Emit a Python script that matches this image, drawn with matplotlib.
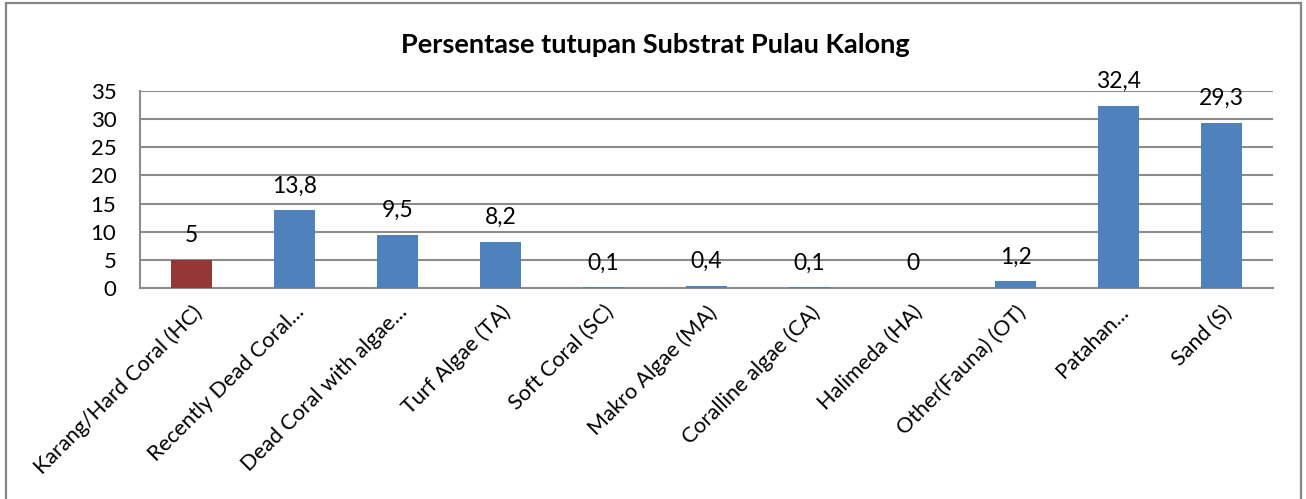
import matplotlib
matplotlib.use("Agg")
import matplotlib.pyplot as plt
from matplotlib.patches import Rectangle

categories = ["Karang/Hard Coral (HC)", "Recently Dead Coral...", "Dead Coral with algae...",
              "Turf Algae (TA)", "Soft Coral (SC)", "Makro Algae (MA)", "Coralline algae (CA)",
              "Halimeda (HA)", "Other(Fauna) (OT)", "Patahan...", "Sand (S)"]
values = [5, 13.8, 9.5, 8.2, 0.1, 0.4, 0.1, 0, 1.2, 32.4, 29.3]
bar_colors = ["#953735"] + ["#4F81BD"] * 10
yticks = [0, 5, 10, 15, 20, 25, 30, 35]
title = "Persentase tutupan Substrat Pulau Kalong"

W, H, DPI = 1306, 499, 100
plt.rcParams['font.family'] = ['Lato', 'DejaVu Sans']
fig = plt.figure(figsize=(W / DPI, H / DPI), dpi=DPI)

# outer chart border
fig.patches.append(Rectangle((6 / W, -0.05), (1301 - 6) / W, 1.05 - 3 / H,
                             transform=fig.transFigure, fill=False,
                             edgecolor="#868686", linewidth=1.6))

ax_l, ax_r, ax_t, ax_b = 140, 1273, 91, 288
ax = fig.add_axes([ax_l / W, 1 - ax_b / H, (ax_r - ax_l) / W, (ax_b - ax_t) / H])

x = list(range(len(categories)))
ax.bar(x, values, width=0.4, color=bar_colors, zorder=3)
ax.set_xlim(-0.5, len(categories) - 0.5)
ax.set_ylim(0, 35)
ax.set_yticks(yticks)
ax.grid(axis='y', color="#8c8c8c", linewidth=1.5, zorder=0)
for s in ['top', 'right']:
    ax.spines[s].set_visible(False)
for s in ['left', 'bottom']:
    ax.spines[s].set_color("#8c8c8c")
    ax.spines[s].set_linewidth(1.5)
ax.tick_params(axis='y', length=0, pad=17, labelsize=16)
ax.tick_params(axis='x', length=0, pad=10)
ax.set_xticks(x)
ax.set_xticklabels(categories, rotation=45, ha='right', va='top',
                   rotation_mode='anchor', fontsize=15.6)

for xi, v in zip(x, values):
    lab = f"{v:g}".replace('.', ',')
    ax.annotate(lab, (xi, v), xytext=(0, 17.5), textcoords='offset points',
                ha='center', va='center', fontsize=16.5)

fig.text(655 / W, 1 - 45 / H, title, ha='center', va='center',
         fontsize=19.5, fontweight='bold')

fig.savefig("out.png", dpi=DPI)
